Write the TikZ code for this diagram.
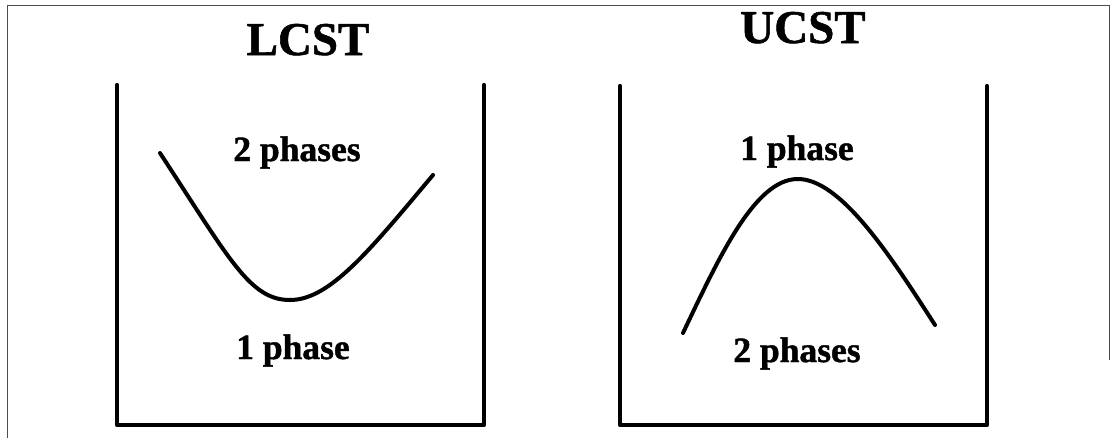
\documentclass[tikz,border=0pt]{standalone}
\usepackage{fontspec}
\setmainfont{Liberation Serif}[BoldFeatures={FakeBold=1.2}]
\begin{document}
\begin{tikzpicture}[x=1pt,y=-1pt,
  wall/.style={line width=4.2pt,line cap=round,line join=round,black},
  curve/.style={line width=4pt,line cap=round,black},
  frame/.style={line width=1pt,black!70},
  title/.style={font=\bfseries\fontsize{47}{50}\selectfont,anchor=base,inner sep=0pt},
  lab/.style={font=\bfseries\fontsize{35.5}{38}\selectfont,anchor=base,inner sep=0pt}]
\useasboundingbox (0,0) rectangle (1113,440);
% outer frame
\draw[frame] (7,438) -- (7,5) -- (1109,5) -- (1109,360);
% LCST box
\draw[wall] (117,85) -- (117,425) -- (484,425) -- (484,85);
% UCST box
\draw[wall] (620,86) -- (620,425) -- (987,425) -- (987,86);
% titles
\node[title] (lcst) at (308,55) {LCST};
\node[title] (ucst) at (803,43) {UCST};
% LCST labels
\node[lab] (l2) at (297,161) {2 phases};
\node[lab] (l1) at (293,359) {1 phase};
% UCST labels
\node[lab] (u1) at (797,160) {1 phase};
\node[lab] (u2) at (797,362) {2 phases};
% curves
\draw[curve] (160,153) .. controls (230,260) and (250,300) .. (290,300)
                       .. controls (330,300) and (370,250) .. (433,175);
\draw[curve] (683,333) .. controls (720,255) and (755,180) .. (797,179)
                       .. controls (840,178) and (890,255) .. (935,325);
\end{tikzpicture}
\end{document}
